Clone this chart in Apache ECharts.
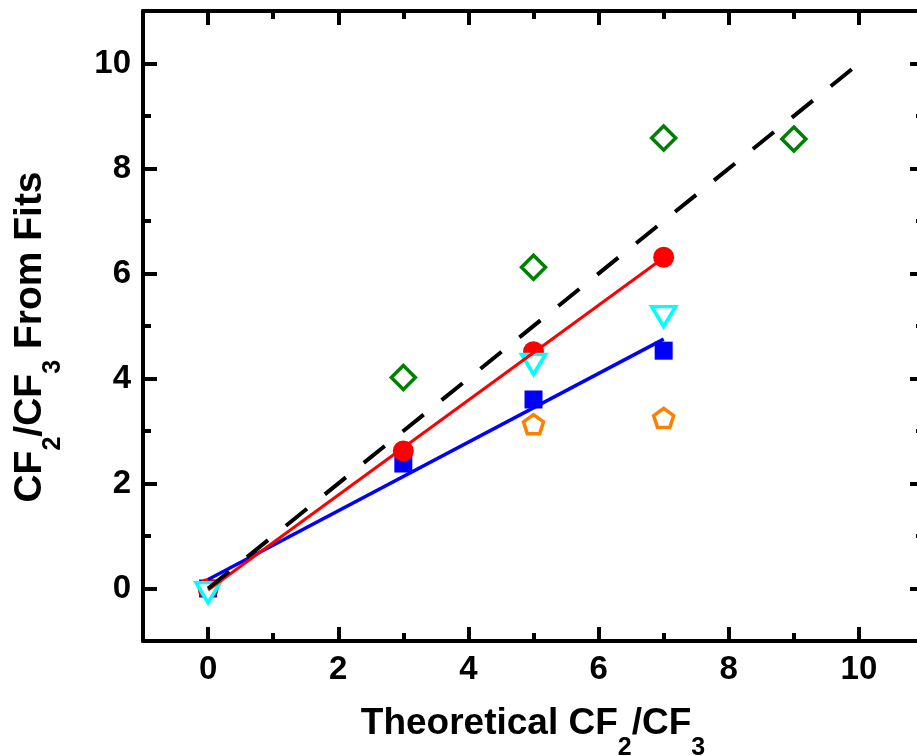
<!DOCTYPE html>
<html>
<head>
<meta charset="utf-8">
<script src="https://cdn.jsdelivr.net/npm/echarts@6/dist/echarts.min.js"></script>
<style>html,body{margin:0;padding:0;background:#fff;overflow:hidden;}#chart{width:917px;height:756px;}</style>
</head>
<body>
<div id="chart"></div>
<script>
// ---- data ----
const xMajor = [0, 2, 4, 6, 8, 10];
const xMinor = [1, 3, 5, 7, 9];
const yMajor = [0, 2, 4, 6, 8, 10];
const yMinor = [-1, 1, 3, 5, 7, 9];

const redX = [0, 3, 5, 7];
const redY = [0, 2.62, 4.51, 6.31];
const blueX = [0, 3, 5, 7];
const blueY = [0, 2.38, 3.60, 4.53];
const cyanX = [0, 5, 7];
const cyanY = [-0.08, 4.27, 5.18];
const greenX = [3, 5, 7, 9];
const greenY = [4.02, 6.12, 8.58, 8.56];
const orangeX = [5, 7];
const orangeY = [3.13, 3.25];

const redFitX = [0, 7];
const redFitY = [-0.03, 6.30];
const blueFitX = [0, 7];
const blueFitY = [0.17, 4.75];
const idealX = [0, 10];
const idealY = [0, 10];

const pts = (xs, ys) => xs.map((x, i) => [x, ys[i]]);

const FONT = '"Liberation Sans", Arial, sans-serif';
const BLACK = '#000';

function axis(pos, ticks, len, opts) {
  const a = {
    type: 'value', min: -1, max: 11, position: pos,
    axisLine: { show: !!opts.line, onZero: false, lineStyle: { color: BLACK, width: 4 } },
    axisTick: { show: true, inside: true, length: len, customValues: ticks, lineStyle: { color: BLACK, width: 4 } },
    axisLabel: { show: false },
    splitLine: { show: false }
  };
  if (opts.labels) {
    a.axisLabel = {
      show: true, customValues: ticks, color: BLACK,
      fontFamily: FONT, fontWeight: 'bold', fontSize: 33,
      margin: opts.margin
    };
  }
  return a;
}

function rich(main, sub, lh, pad) {
  return {
    m: { fontFamily: FONT, fontWeight: 'bold', fontSize: main, lineHeight: lh, verticalAlign: 'top', fill: BLACK },
    s: { fontFamily: FONT, fontWeight: 'bold', fontSize: sub, lineHeight: 20, verticalAlign: 'top', padding: [pad, 0, 0, 0], fill: BLACK }
  };
}

const option = {
  animation: false,
  backgroundColor: '#fff',
  grid: { left: 143, top: 11, width: 781, height: 630, containLabel: false, outerBoundsMode: 'none' },
  xAxis: [
    axis('bottom', xMajor, 14, { line: true, labels: true, margin: 12 }),
    axis('bottom', xMinor, 8, {}),
    axis('top', xMajor, 14, { line: true }),
    axis('top', xMinor, 8, {})
  ],
  yAxis: [
    axis('left', yMajor, 14, { line: true, labels: true, margin: 12 }),
    axis('left', yMinor, 8, {}),
    axis('right', yMajor, 14, { line: true }),
    axis('right', yMinor, 8, {})
  ],
  graphic: [
    {
      type: 'text', x: 533, y: 705,
      style: {
        text: '{m|Theoretical CF}{s|2}{m|/CF}{s|3}',
        align: 'center', verticalAlign: 'top', rich: rich(37, 25, 40, 31)
      }
    },
    {
      type: 'text', x: 11, y: 337, rotation: Math.PI / 2,
      style: {
        text: '{m|CF}{s|2}{m|/CF}{s|3}{m| From Fits}',
        align: 'center', verticalAlign: 'top', rich: rich(39, 25, 42, 30)
      }
    }
  ],
  series: [
    { type: 'line', data: pts(blueFitX, blueFitY), showSymbol: false, symbol: 'none',
      lineStyle: { color: '#0000FF', width: 3.5 } },
    { type: 'line', data: pts(redFitX, redFitY), showSymbol: false, symbol: 'none',
      lineStyle: { color: '#FF0000', width: 3 } },
    { type: 'line', data: pts(idealX, idealY), showSymbol: false, symbol: 'none',
      lineStyle: { color: BLACK, width: 4, type: [27, 23], cap: 'butt' } },
    { type: 'scatter', data: pts(blueX, blueY), symbol: 'rect', symbolSize: 18,
      itemStyle: { color: '#0000FF', opacity: 1 } },
    { type: 'scatter', data: pts(redX, redY), symbol: 'circle', symbolSize: 21,
      itemStyle: { color: '#FF0000', opacity: 1 } },
    { type: 'scatter', data: pts(cyanX, cyanY), symbol: 'triangle', symbolSize: [24, 20], symbolRotate: 180,
      itemStyle: { color: '#fff', borderColor: '#00FFFF', borderWidth: 3.5, opacity: 1 } },
    { type: 'scatter', data: pts(greenX, greenY), symbol: 'diamond', symbolSize: 24,
      itemStyle: { color: '#fff', borderColor: '#008000', borderWidth: 3.5, opacity: 1 } },
    { type: 'scatter', data: pts(orangeX, orangeY),
      symbol: 'path://M10,0 L19.51,6.91 L15.88,18.09 L4.12,18.09 L0.49,6.91 Z',
      symbolSize: [20, 19],
      itemStyle: { color: '#fff', borderColor: '#FF8000', borderWidth: 3.5, opacity: 1 } }
  ]
};

const chart = echarts.init(document.getElementById('chart'), null, { renderer: 'canvas' });
chart.setOption(option);
</script>
</body>
</html>
